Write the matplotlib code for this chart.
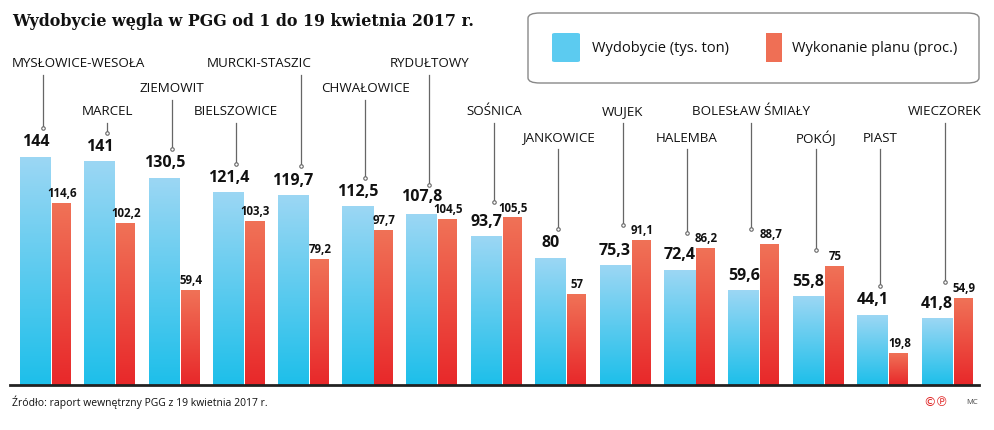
import numpy as np
import matplotlib.pyplot as plt
from matplotlib.patches import FancyBboxPatch, Rectangle
from matplotlib.colors import LinearSegmentedColormap

# data
kopalnie = ['MYSŁOWICE-WESOŁA', 'MARCEL', 'ZIEMOWIT', 'BIELSZOWICE', 'MURCKI-STASZIC',
            'CHWAŁOWICE', 'RYDUŁTOWY', 'SOŚNICA', 'JANKOWICE', 'WUJEK', 'HALEMBA',
            'BOLESŁAW ŚMIAŁY', 'POKÓJ', 'PIAST', 'WIECZOREK']
wydobycie = [144, 141, 130.5, 121.4, 119.7, 112.5, 107.8, 93.7, 80, 75.3, 72.4,
             59.6, 55.8, 44.1, 41.8]
wykonanie = [114.6, 102.2, 59.4, 103.3, 79.2, 97.7, 104.5, 105.5, 57, 91.1, 86.2,
             88.7, 75, 19.8, 54.9]

# layout (pixels)
W, H = 995, 430
BASE = 385          # baseline, px from top
UNIT = 1.583        # px per value unit
STEP = 64.4         # px per group
name_row = [64, 112, 89, 112, 64, 89, 64, 112, 138, 112, 138, 112, 138, 138, 112]

def ypx(p):
    return (BASE - p) / UNIT

def fmt(v):
    return ('%g' % v).replace('.', ',')

fig = plt.figure(figsize=(W / 100, H / 100), dpi=100)
ax = fig.add_axes([10 / W, (H - BASE) / H, (979 - 10) / W, BASE / H])
for s in ['top', 'right', 'left']:
    ax.spines[s].set_visible(False)
ax.spines['bottom'].set_linewidth(2)
ax.spines['bottom'].set_color('#222222')
ax.set_xticks([])
ax.set_yticks([])
ax.patch.set_visible(False)

x = np.arange(len(kopalnie))
bw = 31 / STEP
rw = 19 / STEP
blue_cm = LinearSegmentedColormap.from_list('b', ['#1dbfea', '#9cd7f4'])
red_cm = LinearSegmentedColormap.from_list('r', ['#e8282a', '#f07257'])
grad = np.linspace(0, 1, 256).reshape(-1, 1)

bars_b = ax.bar(x, wydobycie, width=bw, align='edge', color='none')
bars_r = ax.bar(x + bw + 1 / STEP, wykonanie, width=rw, align='edge', color='none')
for bars, cm in [(bars_b, blue_cm), (bars_r, red_cm)]:
    for b in bars:
        x0, h = b.get_x(), b.get_height()
        ax.imshow(grad, cmap=cm, origin='lower', aspect='auto',
                  extent=[x0, x0 + b.get_width(), 0, h], zorder=1)
ax.set_xlim(-10 / STEP, (979 - 20) / STEP)
ax.set_ylim(0, BASE / UNIT)

font = 'Open Sans'
for i in range(len(kopalnie)):
    lift = 7 if i == 6 else 5
    ax.annotate(fmt(wydobycie[i]), (x[i] + bw / 2, wydobycie[i]), xytext=(0, lift),
                textcoords='offset points', ha='center', va='bottom',
                fontsize=11.5, fontweight='bold', family=font, color='#111111')
    ax.annotate(fmt(wykonanie[i]), (x[i] + bw + 1 / STEP + rw / 2, wykonanie[i]),
                xytext=(0.5, 2.5), textcoords='offset points', ha='center', va='bottom',
                fontsize=8.3, fontweight='bold', family=font, color='#111111')
    # leader line
    lx = x[i] + 23 / STEP
    top = ypx(name_row[i] + 11)
    dot = max(wydobycie[i] + 18.5, wykonanie[i] + 10)
    ax.plot([lx, lx], [dot, top], color='#666666', lw=0.9, clip_on=False)
    ax.plot(lx, dot, 'o', ms=2.5, mfc='white', mec='#666666', mew=0.8, clip_on=False)
    tx, ha = lx, 'center'
    if i == 0:
        tx, ha = 2 / STEP - 10 / STEP, 'left'
    elif i == 4:
        tx = lx - 41 / STEP
    ax.text(tx, ypx(name_row[i]), kopalnie[i], ha=ha, va='center', fontsize=9.6,
            family=font, color='#111111', clip_on=False)

fig.text(12 / W, 1 - 22 / H, 'Wydobycie węgla w PGG od 1 do 19 kwietnia 2017 r.',
         ha='left', va='center', fontsize=11.4, fontweight='bold', family='DejaVu Serif',
         color='#111111')

# legend
leg = FancyBboxPatch((528 / W, 1 - 83 / H), 451 / W, 70 / H,
                     boxstyle='round,pad=0,rounding_size=0.012', transform=fig.transFigure,
                     fc='white', ec='#888888', lw=1)
fig.add_artist(leg)
fig.add_artist(FancyBboxPatch((552 / W, 1 - 62 / H), 28 / W, 29 / H,
                              boxstyle='round,pad=0,rounding_size=0.003',
                              transform=fig.transFigure, fc='#5ccbf0', ec='none'))
fig.add_artist(Rectangle((766 / W, 1 - 62 / H), 16 / W, 29 / H,
                         transform=fig.transFigure, fc='#ef6f55', ec='none'))
fig.text(592 / W, 1 - 48 / H, 'Wydobycie (tys. ton)', ha='left', va='center',
         fontsize=10.5, family=font, color='#111111')
fig.text(792 / W, 1 - 48 / H, 'Wykonanie planu (proc.)', ha='left', va='center',
         fontsize=10.5, family=font, color='#111111')

fig.text(12 / W, 1 - 402 / H, 'Źródło: raport wewnętrzny PGG z 19 kwietnia 2017 r.',
         ha='left', va='center', fontsize=7.5, family=font, color='#111111')
fig.text(936 / W, 1 - 402 / H, '©℗', ha='center', va='center', fontsize=9,
         family='DejaVu Sans', color='#e02020')
fig.text(972 / W, 1 - 402 / H, 'MC', ha='center', va='center', fontsize=5.5,
         family=font, color='#444444')

fig.savefig('out.png', dpi=100)
